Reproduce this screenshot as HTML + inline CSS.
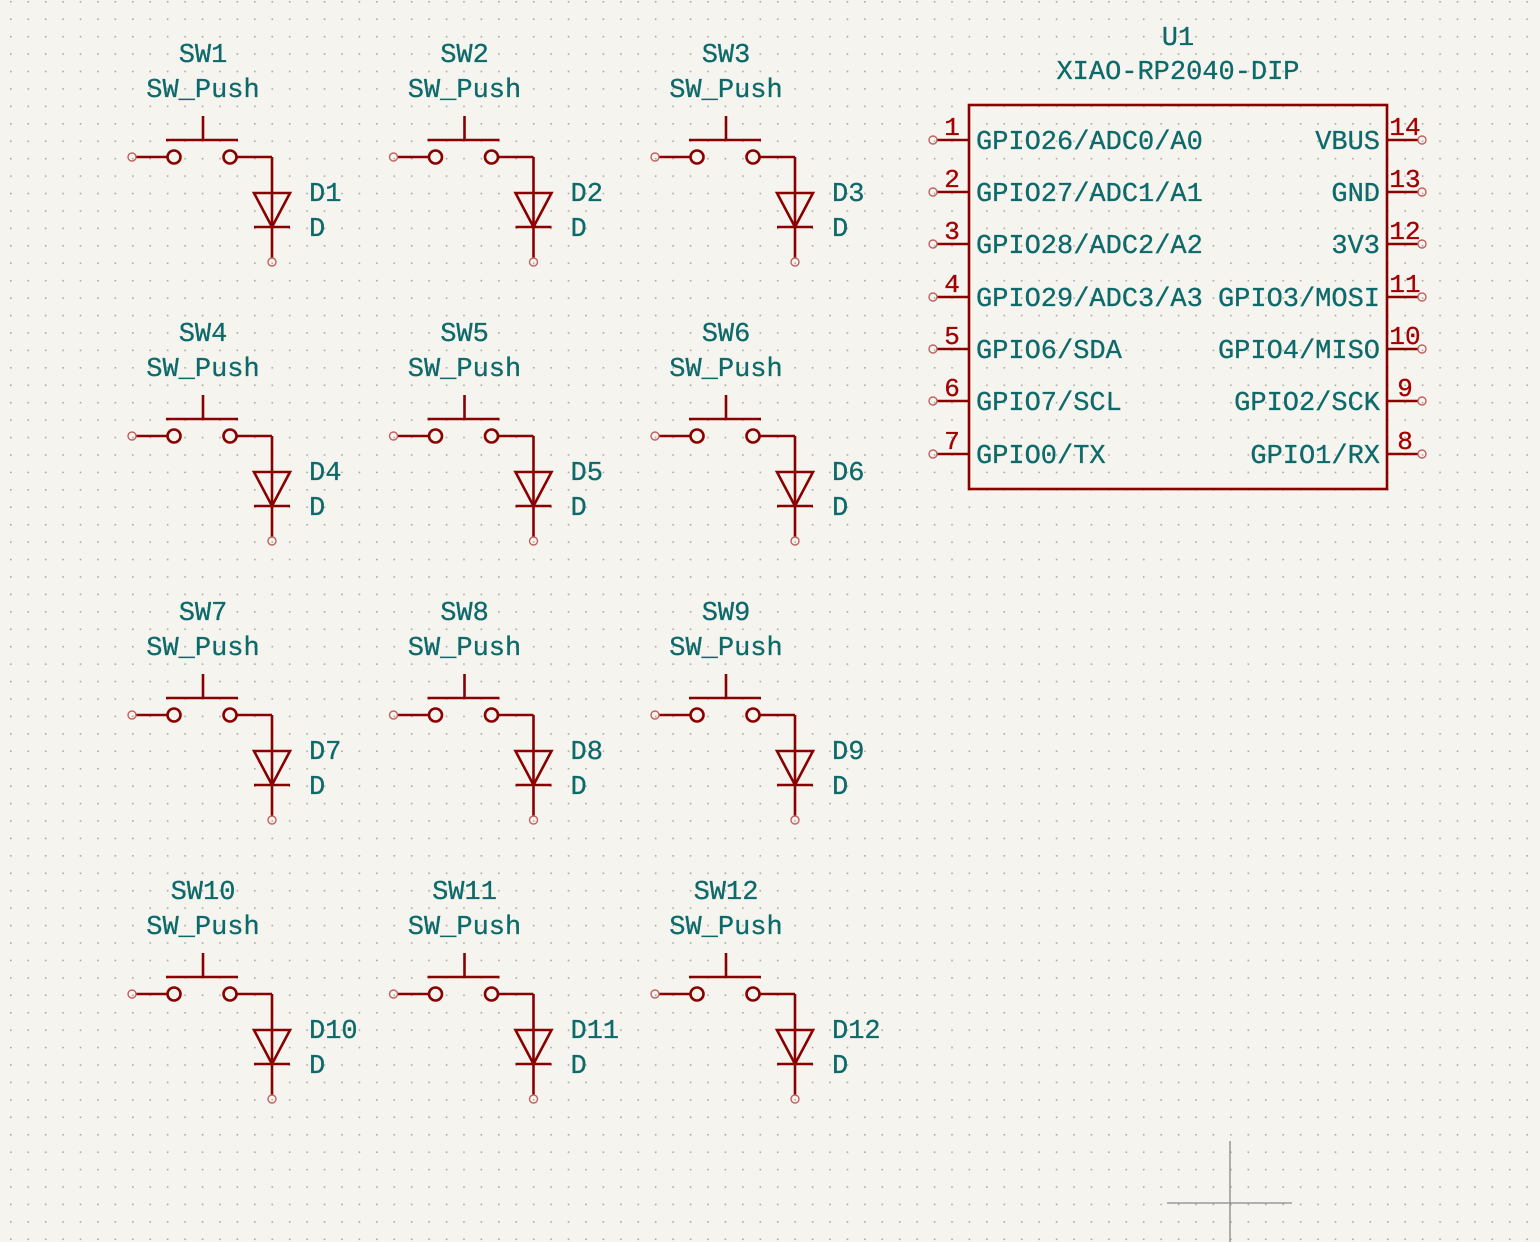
<!DOCTYPE html>
<html><head><meta charset="utf-8"><style>
html,body{margin:0;padding:0;background:#f5f4ef;}
svg{display:block}
text{font-family:"Liberation Mono","DejaVu Sans Mono",monospace;}
.t{fill:#0e6a6a;font-size:27px;letter-spacing:0px;stroke:#0e6a6a;stroke-width:0.3px}
.n{fill:#a30000;font-size:26px;stroke:#a30000;stroke-width:0.3px}
</style></head><body>
<svg width="1540" height="1242" viewBox="0 0 1540 1242" xmlns="http://www.w3.org/2000/svg">
<defs>
<pattern id="g" x="10" y="1" width="17.43" height="17.43" patternUnits="userSpaceOnUse">
<rect x="0" y="0" width="1.6" height="1.6" fill="#a8a8a8"/>
</pattern>
<g id="u" fill="none" stroke="#8a0000" stroke-width="2.6">
<line x1="136" y1="157" x2="167" y2="157"/>
<circle cx="174" cy="157" r="6.5"/>
<circle cx="230" cy="157" r="6.5"/>
<line x1="237" y1="157" x2="272" y2="157"/>
<line x1="272" y1="157" x2="272" y2="258"/>
<line x1="166" y1="140" x2="238" y2="140"/>
<line x1="203" y1="116" x2="203" y2="140"/>
<polygon points="254,193 290,193 272,227"/>
<line x1="254" y1="227" x2="290" y2="227"/>
<circle cx="132" cy="157" r="4" stroke="#c46060" stroke-width="1.4"/>
<circle cx="272" cy="262" r="4" stroke="#c46060" stroke-width="1.4"/>
</g>
</defs>
<rect width="1540" height="1242" fill="#f5f4ef"/>
<rect width="1540" height="1242" fill="url(#g)"/>
<g stroke="#888" stroke-width="1.3">
<line x1="1230" y1="1141" x2="1230" y2="1242"/>
<line x1="1167" y1="1203" x2="1292" y2="1203"/>
</g>

<use href="#u"/>
<use href="#u" transform="translate(261.5,0)"/>
<use href="#u" transform="translate(523,0)"/>
<use href="#u" transform="translate(0,279)"/>
<use href="#u" transform="translate(261.5,279)"/>
<use href="#u" transform="translate(523,279)"/>
<use href="#u" transform="translate(0,558)"/>
<use href="#u" transform="translate(261.5,558)"/>
<use href="#u" transform="translate(523,558)"/>
<use href="#u" transform="translate(0,837)"/>
<use href="#u" transform="translate(261.5,837)"/>
<use href="#u" transform="translate(523,837)"/>

<g class="t" text-anchor="middle">
<text x="203" y="62">SW1</text><text x="203" y="97">SW_Push</text>
<text x="464.5" y="62">SW2</text><text x="464.5" y="97">SW_Push</text>
<text x="726" y="62">SW3</text><text x="726" y="97">SW_Push</text>
<text x="203" y="341">SW4</text><text x="203" y="376">SW_Push</text>
<text x="464.5" y="341">SW5</text><text x="464.5" y="376">SW_Push</text>
<text x="726" y="341">SW6</text><text x="726" y="376">SW_Push</text>
<text x="203" y="620">SW7</text><text x="203" y="655">SW_Push</text>
<text x="464.5" y="620">SW8</text><text x="464.5" y="655">SW_Push</text>
<text x="726" y="620">SW9</text><text x="726" y="655">SW_Push</text>
<text x="203" y="899">SW10</text><text x="203" y="934">SW_Push</text>
<text x="464.5" y="899">SW11</text><text x="464.5" y="934">SW_Push</text>
<text x="726" y="899">SW12</text><text x="726" y="934">SW_Push</text>
<text x="1178" y="45">U1</text><text x="1178" y="79">XIAO-RP2040-DIP</text>
</g>
<g class="t">
<text x="309" y="201">D1</text><text x="309" y="236">D</text>
<text x="570.5" y="201">D2</text><text x="570.5" y="236">D</text>
<text x="832" y="201">D3</text><text x="832" y="236">D</text>
<text x="309" y="480">D4</text><text x="309" y="515">D</text>
<text x="570.5" y="480">D5</text><text x="570.5" y="515">D</text>
<text x="832" y="480">D6</text><text x="832" y="515">D</text>
<text x="309" y="759">D7</text><text x="309" y="794">D</text>
<text x="570.5" y="759">D8</text><text x="570.5" y="794">D</text>
<text x="832" y="759">D9</text><text x="832" y="794">D</text>
<text x="309" y="1038">D10</text><text x="309" y="1073">D</text>
<text x="570.5" y="1038">D11</text><text x="570.5" y="1073">D</text>
<text x="832" y="1038">D12</text><text x="832" y="1073">D</text>
</g>

<g fill="none" stroke="#8a0000" stroke-width="2.6">
<rect x="969" y="105" width="418" height="384"/>
<path d="M937 140H969M937 192H969M937 244H969M937 297H969M937 349H969M937 401H969M937 454H969"/>
<path d="M1387 140H1418M1387 192H1418M1387 244H1418M1387 297H1418M1387 349H1418M1387 401H1418M1387 454H1418"/>
</g>
<g fill="none" stroke="#c46060" stroke-width="1.4">
<circle cx="933" cy="140" r="4"/><circle cx="933" cy="192" r="4"/><circle cx="933" cy="244" r="4"/><circle cx="933" cy="297" r="4"/><circle cx="933" cy="349" r="4"/><circle cx="933" cy="401" r="4"/><circle cx="933" cy="454" r="4"/>
<circle cx="1422" cy="140" r="4"/><circle cx="1422" cy="192" r="4"/><circle cx="1422" cy="244" r="4"/><circle cx="1422" cy="297" r="4"/><circle cx="1422" cy="349" r="4"/><circle cx="1422" cy="401" r="4"/><circle cx="1422" cy="454" r="4"/>
</g>
<g class="t">
<text x="976" y="149">GPIO26/ADC0/A0</text>
<text x="976" y="201">GPIO27/ADC1/A1</text>
<text x="976" y="253">GPIO28/ADC2/A2</text>
<text x="976" y="306">GPIO29/ADC3/A3</text>
<text x="976" y="358">GPIO6/SDA</text>
<text x="976" y="410">GPIO7/SCL</text>
<text x="976" y="463">GPIO0/TX</text>
</g>
<g class="t" text-anchor="end">
<text x="1380" y="149">VBUS</text>
<text x="1380" y="201">GND</text>
<text x="1380" y="253">3V3</text>
<text x="1380" y="306">GPIO3/MOSI</text>
<text x="1380" y="358">GPIO4/MISO</text>
<text x="1380" y="410">GPIO2/SCK</text>
<text x="1380" y="463">GPIO1/RX</text>
</g>
<g class="n" text-anchor="middle">
<text x="952" y="135">1</text><text x="952" y="187">2</text><text x="952" y="239">3</text><text x="952" y="292">4</text><text x="952" y="344">5</text><text x="952" y="396">6</text><text x="952" y="449">7</text>
<text x="1405" y="135">14</text><text x="1405" y="187">13</text><text x="1405" y="239">12</text><text x="1405" y="292">11</text><text x="1405" y="344">10</text><text x="1405" y="396">9</text><text x="1405" y="449">8</text>
</g>
</svg>
</body></html>
